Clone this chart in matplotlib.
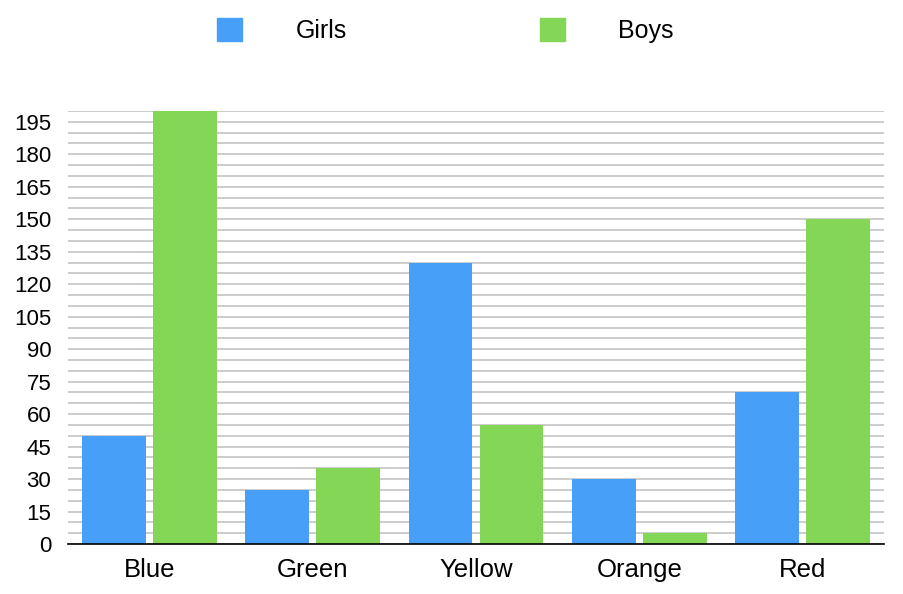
import numpy as np
import matplotlib.pyplot as plt
from matplotlib.patches import Patch

plt.rcParams['font.family'] = ['Liberation Sans', 'DejaVu Sans']

categories = ["Blue", "Green", "Yellow", "Orange", "Red"]
girls = [50, 25, 130, 30, 70]
boys = [200, 35, 55, 5, 150]
series_names = ["Girls", "Boys"]
colors = ["#479ff8", "#83d656"]

fig = plt.figure(figsize=(9.04, 5.94), dpi=100)
ax = fig.add_axes([68/904, 50/594, 816/904, 433/594])

x = np.arange(len(categories))
w = 0.392
off = w/2 + 0.0215
ax.bar(x - off, girls, width=w, color=colors[0], zorder=3)
ax.bar(x + off, boys, width=w, color=colors[1], zorder=3)

ax.set_xlim(-0.5, len(categories) - 0.5)
ax.set_ylim(0, 200)
ax.set_yticks(np.arange(0, 200, 15))
ax.set_yticks(np.arange(0, 201, 5), minor=True)
ax.grid(axis='y', which='both', color='#c8c8c8', linewidth=1.3, zorder=0)
ax.set_axisbelow(True)
ax.set_xticks(x)
ax.set_xticklabels(categories, fontsize=18.5)
ax.tick_params(axis='y', which='both', length=0, labelsize=16, pad=12)
ax.tick_params(axis='x', length=0, pad=10)
for s in ['top', 'right', 'left']:
	ax.spines[s].set_visible(False)
ax.spines['bottom'].set_color('black')
ax.spines['bottom'].set_linewidth(1.2)
ax.spines['bottom'].set_zorder(4)

handles = [Patch(color=c, label=n) for c, n in zip(colors, series_names)]
fig.legend(handles=handles, ncol=2, loc='center left', bbox_to_anchor=(217/904, 1 - 30.5/594),
	frameon=False, fontsize=18, handlelength=1.0, handleheight=1.0,
	handletextpad=2.15, columnspacing=7.7, borderpad=0, borderaxespad=0)

plt.savefig("out.png", dpi=100)
